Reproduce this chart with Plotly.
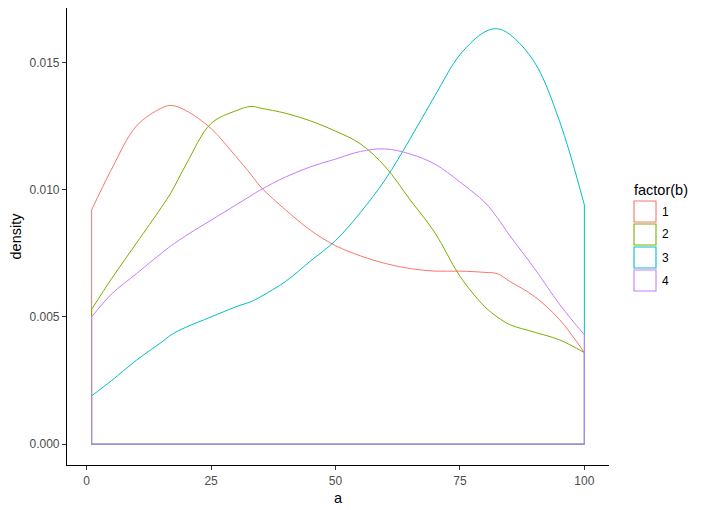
import plotly.graph_objects as go

a_vals = [1, 5, 10, 15, 17, 20, 25, 30, 33, 35, 40, 45, 50, 55, 60, 65, 70, 75, 80, 82.5, 85, 90, 95, 100]

dens_1 = [0.0092, 0.0108, 0.0125, 0.0132, 0.01331, 0.0131, 0.0124, 0.0113, 0.0106, 0.0101, 0.0092, 0.0084,
          0.0078, 0.0074, 0.0071, 0.0069, 0.0068, 0.0068, 0.00675, 0.0067, 0.0064, 0.0058, 0.0049, 0.0036]
dens_2 = [0.0053, 0.0065, 0.0079, 0.0093, 0.0099, 0.0110, 0.0126, 0.0131, 0.01327, 0.0132, 0.0130, 0.0127,
          0.0123, 0.0118, 0.0109, 0.0096, 0.0083, 0.0066, 0.0054, 0.0050, 0.0047, 0.0044, 0.0041, 0.0036]
dens_3 = [0.0019, 0.0025, 0.0033, 0.0040, 0.0043, 0.0046, 0.0050, 0.0054, 0.0056, 0.0058, 0.0064, 0.0072,
          0.0080, 0.0091, 0.0104, 0.0120, 0.0137, 0.0153, 0.0162, 0.01632, 0.0161, 0.0150, 0.0127, 0.0094]
dens_4 = [0.0050, 0.0059, 0.0067, 0.0075, 0.0078, 0.0082, 0.0088, 0.0094, 0.00976, 0.0100, 0.0105, 0.0109,
          0.0112, 0.0115, 0.0116, 0.0114, 0.0110, 0.0103, 0.0095, 0.0089, 0.0082, 0.0069, 0.0055, 0.0043]

groups = ["1", "2", "3", "4"]
series = [dens_1, dens_2, dens_3, dens_4]
colors = ["#F8766D", "#7CAE00", "#00BFC4", "#C77CFF"]
legend_title = "factor(b)"

fig = go.Figure()
for g, d, c in zip(groups, series, colors):
    x0, x1 = a_vals[0], a_vals[-1]
    # outline: left edge, bottom, right edge (as in geom_density)
    fig.add_trace(go.Scatter(
        x=[x0, x0, x1, x1], y=[d[0], 0, 0, d[-1]], mode="lines",
        line=dict(color=c, width=1), showlegend=False, hoverinfo="skip"))
    # smooth density curve
    fig.add_trace(go.Scatter(
        x=a_vals, y=d, mode="lines", name=g,
        line=dict(color=c, width=1, shape="spline", smoothing=1.0),
        showlegend=False, hoverinfo="skip"))

# Manual ggplot-style legend (open key boxes touching each other)
PL, PR, PT, PB = 67, 609, 8, 465  # plot area in screen pixels


def px(sx):
    return (sx - PL) / (PR - PL)


def py(sy):
    return (PB - sy) / (PB - PT)


shapes = []
annotations = [dict(text=legend_title, x=px(632), y=py(190), xref="paper", yref="paper",
                    xanchor="left", yanchor="middle", showarrow=False,
                    font=dict(size=14.5, color="black"))]
key_top, key_h = 200, 23
for i, (g, c) in enumerate(zip(groups, colors)):
    t = key_top + i * key_h
    shapes.append(dict(type="rect", xref="paper", yref="paper",
                       x0=px(634), x1=px(656), y0=py(t + key_h - 1), y1=py(t + 1),
                       line=dict(color=c, width=1.1), fillcolor="white"))
    annotations.append(dict(text=g, x=px(660), y=py(t + key_h / 2), xref="paper", yref="paper",
                            xanchor="left", yanchor="middle", showarrow=False,
                            font=dict(size=12, color="black")))

font_family = "Liberation Sans, Arial, sans-serif"
fig.update_layout(
    width=703, height=510,
    margin=dict(l=59, r=102, t=0, b=53),
    paper_bgcolor="white", plot_bgcolor="white",
    font=dict(family=font_family, color="#4D4D4D", size=12),
    showlegend=False,
    shapes=shapes, annotations=annotations,
    xaxis=dict(
        range=[-3.95, 104.95], tickvals=[0, 25, 50, 75, 100],
        showgrid=False, zeroline=False, showline=True, linecolor="black", linewidth=1.2,
        ticks="outside", ticklen=4, tickcolor="#333333", tickwidth=1,
        tickfont=dict(size=12, color="#4D4D4D"),
        title=dict(text="a", font=dict(size=14.5, color="black"), standoff=6),
    ),
    yaxis=dict(
        range=[-0.000816, 0.017136], tickvals=[0, 0.005, 0.010, 0.015], tickformat=".3f",
        showgrid=False, zeroline=False, showline=True, linecolor="black", linewidth=1.2,
        ticks="outside", ticklen=4, tickcolor="#333333", tickwidth=1,
        tickfont=dict(size=12, color="#4D4D4D"),
        title=dict(text="density", font=dict(size=14.5, color="black"), standoff=6),
    ),
)

fig.write_html("out.html")
